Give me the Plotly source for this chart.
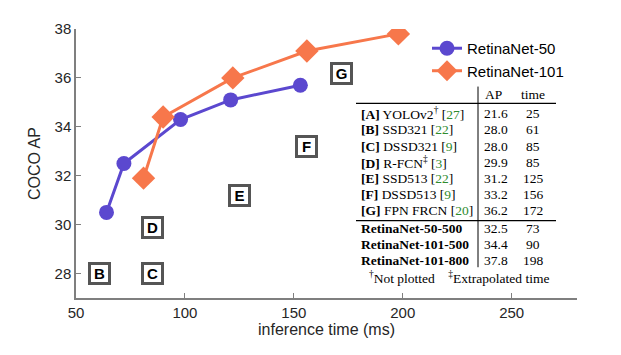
import plotly.graph_objects as go

# ---- data ----
r50_time = [64, 72, 98, 121, 153]
r50_ap = [30.5, 32.5, 34.3, 35.1, 35.7]
r101_time = [81, 90, 122, 156, 198]
r101_ap = [31.9, 34.4, 36.0, 37.1, 37.8]

box_labels = ["B", "C", "D", "E", "F", "G"]
box_time = [61, 85, 85, 125, 156, 172]
box_ap = [28.0, 28.0, 29.9, 31.2, 33.2, 36.2]

table_keys = ["[A]", "[B]", "[C]", "[D]", "[E]", "[F]", "[G]"]
table_names = ["YOLOv2<sup>†</sup>", "SSD321", "DSSD321", "R-FCN<sup>‡</sup>", "SSD513", "DSSD513",
               "FPN FRCN"]
table_refs = ["27", "22", "9", "3", "22", "9", "20"]
table_ap = ["21.6", "28.0", "28.0", "29.9", "31.2", "33.2", "36.2"]
table_time = ["25", "61", "85", "85", "125", "156", "172"]
retina_names = ["RetinaNet-50-500", "RetinaNet-101-500", "RetinaNet-101-800"]
retina_ap = ["32.5", "34.4", "37.8"]
retina_time = ["73", "90", "198"]

OFF = 8  # page body margin
W, H = 621 - OFF, 355 - OFF
ML, MR, MT, MB = 76 - OFF, 44, 27 - OFF, 57
PW, PH = W - ML - MR, H - MT - MB


def px(x):
    # page pixel x -> paper
    return (x - OFF - ML) / PW


def py(y):
    # page pixel y -> paper
    return (H + OFF - MB - y) / PH


BLUE = "#5B48CF"
ORANGE = "#F7774B"
GREEN = "#2E8B2E"

fig = go.Figure()
fig.add_trace(go.Scatter(x=r50_time, y=r50_ap, mode="lines+markers", name="RetinaNet-50",
                         line=dict(color=BLUE, width=3),
                         marker=dict(symbol="circle", size=15, color=BLUE)))
fig.add_trace(go.Scatter(x=r101_time, y=r101_ap, mode="lines+markers", name="RetinaNet-101",
                         line=dict(color=ORANGE, width=3),
                         marker=dict(symbol="diamond", size=18, color=ORANGE)))

annotations = []
for lab, t, a in zip(box_labels, box_time, box_ap):
    annotations.append(dict(x=t, y=a, xref="x", yref="y", text=f"<b>{lab}</b>", showarrow=False,
                            xanchor="center", yanchor="middle",
                            font=dict(family="Liberation Sans, Arial", size=15, color="black"),
                            bgcolor="white", bordercolor="#555555", borderwidth=3,
                            width=17, height=17, borderpad=0, align="center"))

serif = "Liberation Serif, Times New Roman, serif"
FS = 13.5


def cell(x, y, text, anchor="left", size=FS):
    annotations.append(dict(x=px(x), y=py(y), xref="paper", yref="paper", text=text,
                            showarrow=False, xanchor=anchor, yanchor="middle",
                            font=dict(family=serif, size=size, color="black")))


x_name, x_ap, x_time = 359, 482, 533
cell(493, 93, "AP", "center")
cell(533, 93, "time", "center")
row_y = [112, 128.5, 145, 161, 177.5, 194, 210]
for key, name, ref, ap, tm, yy in zip(table_keys, table_names, table_refs, table_ap, table_time, row_y):
    cell(x_name, yy, f"<b>{key}</b> {name} [<span style='color:{GREEN}'>{ref}</span>]")
    cell(x_ap, yy, ap)
    cell(x_time, yy, tm, "center")
ret_y = [227.5, 244, 260]
for name, ap, tm, yy in zip(retina_names, retina_ap, retina_time, ret_y):
    cell(x_name, yy, f"<b>{name}</b>")
    cell(x_ap, yy, ap)
    cell(x_time, yy, tm, "center")
cell(459, 277, "<sup>†</sup>Not plotted    <sup>‡</sup>Extrapolated time", "center", 13.5)

shapes = [
    dict(type="line", xref="paper", yref="paper", x0=px(356), x1=px(556), y0=py(102), y1=py(102),
         line=dict(color="black", width=1.2)),
    dict(type="line", xref="paper", yref="paper", x0=px(356), x1=px(556), y0=py(220), y1=py(220),
         line=dict(color="black", width=1.2)),
    dict(type="line", xref="paper", yref="paper", x0=px(478), x1=px(478), y0=py(85), y1=py(267),
         line=dict(color="black", width=1)),
]

axis_common = dict(showgrid=False, zeroline=False, showline=True, linecolor="#7f7f7f", linewidth=1.5,
                   ticks="inside", ticklen=5, tickcolor="#7f7f7f", tickwidth=1,
                   tickfont=dict(family="Liberation Sans, Arial", size=15, color="#262626"),
                   mirror=False)
fig.update_layout(
    width=W, height=H, margin=dict(l=ML, r=MR, t=MT, b=MB),
    paper_bgcolor="white", plot_bgcolor="white",
    xaxis=dict(range=[50, 280], tickvals=[50, 100, 150, 200, 250],
               title=dict(text="inference time (ms)", standoff=4,
                          font=dict(family="Liberation Sans, Arial", size=16, color="#262626")),
               **axis_common),
    yaxis=dict(range=[27, 38], tickvals=[28, 30, 32, 34, 36, 38],
               title=dict(text="COCO AP", standoff=10,
                          font=dict(family="Liberation Sans, Arial", size=16, color="#262626")),
               **axis_common),
    legend=dict(x=px(427), y=py(30), xanchor="left", yanchor="top", bgcolor="rgba(0,0,0,0)",
                font=dict(family="Liberation Sans, Arial", size=15, color="black"),
                tracegroupgap=0, itemwidth=30),
    annotations=annotations, shapes=shapes,
)

fig.write_html("out.html")
